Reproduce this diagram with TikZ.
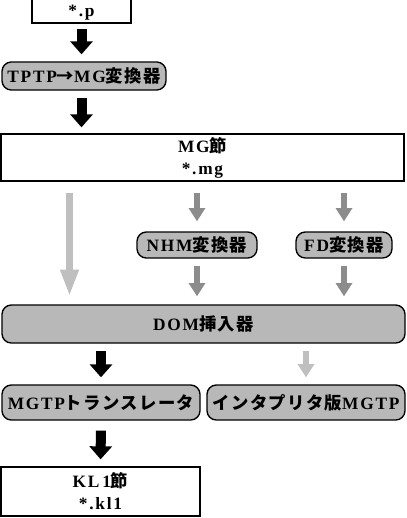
\documentclass[tikz,border=0pt]{standalone}
\usepackage{fontspec}
\setmainfont{Liberation Serif}[LetterSpace=10]
\newfontfamily\jp{Noto Sans CJK JP}[LetterSpace=8]
\usetikzlibrary{arrows.meta}

\begin{document}
\begin{tikzpicture}[x=0.75pt,y=-0.75pt,font=\fontsize{13}{16.5}\selectfont\bfseries,
    filebox/.style={draw,line width=1pt,inner sep=0pt,align=center},
    tool/.style={draw,line width=1pt,rounded corners=7pt,fill=black!28,inner sep=0pt},
    flow/.style={line width=7.5pt,-{Triangle[width=16.5pt,length=9.75pt]}},
    hint/.style={draw=#1,line width=5pt,-{Triangle[width=12pt,length=10pt]}}]
    \useasboundingbox (0,0) rectangle (407,518);
    \node[filebox,minimum width=74.25pt,text height=30pt,text depth=5.25pt,anchor=base] (pfile) at (81.5,16) {*.p};
    \node[tool,minimum width=123pt,minimum height=21pt] (tptp) at (84,76) {TPTP{\jp →}MG{\jp 変換器}};
    \node[filebox,minimum width=302.25pt,minimum height=35.25pt] (mg) at (202.5,157.5) {MG{\jp 節}\\*.mg};
    \node[tool,minimum width=90pt,minimum height=19.5pt] (nhm) at (197,245) {NHM{\jp 変換器}};
    \node[tool,minimum width=72pt,minimum height=19.5pt] (fd) at (344,245) {FD{\jp 変換器}};
    \node[tool,minimum width=302.25pt,minimum height=28.5pt] (dom) at (203.5,324) {DOM{\jp 挿入器}};
    \node[tool,minimum width=148.5pt,minimum height=26.25pt] (mgtp) at (101,402.5) {MGTP{\jp トランスレータ}};
    \node[tool,minimum width=148.5pt,minimum height=26.25pt] (interp) at (306,402.5) {{\jp インタプリタ版}MGTP};
    \node[filebox,minimum width=149.25pt,minimum height=36.75pt] (kl1) at (100.5,491.5) {KL\,1{\jp 節}\\*.kl1};
    \coordinate (bypass) at (69.5,0);
    \draw[flow,shorten <=3.75pt,shorten >=5.25pt] (pfile.south) -- (pfile.south |- tptp.north);
    \draw[flow,shorten <=5.25pt,shorten >=4.5pt] (tptp.south -| pfile.south) -- (pfile.south |- mg.north);
    \draw[hint=black!25,-{Triangle[width=12.75pt,length=20pt]},shorten <=8.25pt,shorten >=6pt] (mg.south -| bypass) -- (dom.north -| bypass);
    \draw[hint=black!45,shorten <=8.25pt,shorten >=7.5pt] (mg.south -| nhm.north) -- (nhm.north);
    \draw[hint=black!45,shorten <=8.25pt,shorten >=7.5pt] (mg.south -| fd.north) -- (fd.north);
    \draw[hint=black!45,shorten <=5.25pt,shorten >=6pt] (nhm.south) -- (dom.north -| nhm.south);
    \draw[hint=black!45,shorten <=5.25pt,shorten >=6pt] (fd.south) -- (dom.north -| fd.south);
    \draw[flow,shorten <=5.25pt,shorten >=5.25pt] (dom.south -| mgtp.north) -- (mgtp.north);
    \draw[hint=black!25,shorten <=5.25pt,shorten >=5.25pt] (dom.south -| interp.north) -- (interp.north);
    \draw[flow,shorten <=7.5pt,shorten >=5.25pt] (mgtp.south) -- (kl1.north);
\end{tikzpicture}
\end{document}
